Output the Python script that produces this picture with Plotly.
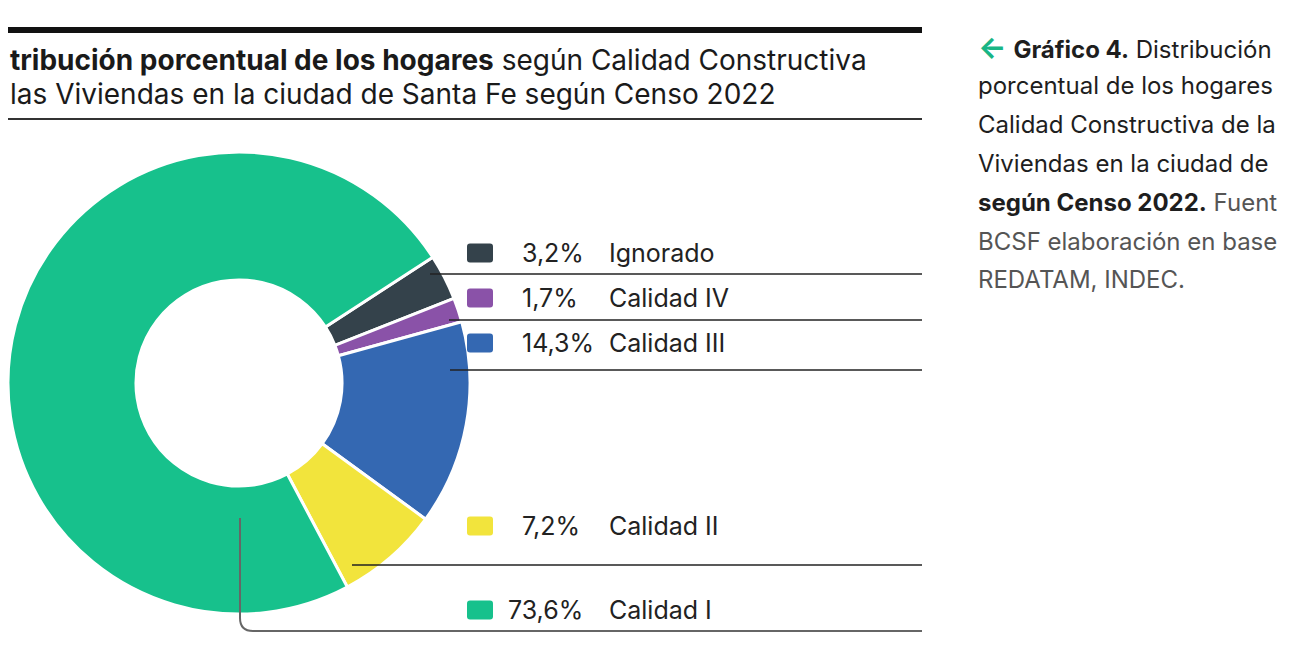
import plotly.graph_objects as go

# Hogares por calidad constructiva de la vivienda, Santa Fe, Censo 2022
labels = ["Ignorado", "Calidad IV", "Calidad III", "Calidad II", "Calidad I"]
values = [3.2, 1.7, 14.3, 7.2, 73.6]
pct_text = ["3,2%", "1,7%", "14,3%", "7,2%", "73,6%"]
colors = ["#34424b", "#8a52a8", "#3468b2", "#f2e43c", "#17c18c"]

title_1 = "<b>tribución porcentual de los hogares</b> según Calidad Constructiva"
title_2 = "las Viviendas en la ciudad de Santa Fe según Censo 2022"

caption = [
    "<span style='color:#19b585;font-size:30px'><b>←</b></span> <b>Gráfico 4.</b> Distribución",
    "porcentual de los hogares",
    "Calidad Constructiva de la",
    "Viviendas en la ciudad de",
    "<b>según Censo 2022.</b> <span style='color:#555'>Fuent</span>",
    "<span style='color:#555'>BCSF elaboración en base</span>",
    "<span style='color:#555'>REDATAM, INDEC.</span>",
]

# the page body adds an 8px margin, so the figure is a bit smaller and
# positions below are given in page pixels
OFF = 8
W, H = 1300 - OFF, 655 - OFF


def px(x):
    return (x - OFF) / W


def py(y):
    return 1 - (y - OFF) / H


# donut geometry (page pixels)
cx, cy, R = 239, 383, 231

fig = go.Figure()
fig.add_trace(go.Pie(
    labels=labels,
    values=values,
    sort=False,
    direction="clockwise",
    rotation=57,
    hole=0.446,
    marker=dict(colors=colors, line=dict(color="white", width=3)),
    textinfo="none",
    hoverinfo="label+percent",
    showlegend=False,
    domain=dict(x=[px(cx - R), px(cx + R)], y=[py(cy + R), py(cy - R)]),
))

shapes = []
annotations = []

# header rules
shapes.append(dict(type="line", xref="paper", yref="paper",
                   x0=px(0), x1=px(922), y0=py(30), y1=py(30),
                   line=dict(color="#111", width=6)))
shapes.append(dict(type="line", xref="paper", yref="paper",
                   x0=px(0), x1=px(922), y0=py(119), y1=py(119),
                   line=dict(color="#333", width=2)))

for txt, y in [(title_1, 60), (title_2, 94)]:
    annotations.append(dict(text=txt, x=px(OFF), y=py(y), xref="paper", yref="paper",
                            xanchor="left", yanchor="middle", showarrow=False,
                            font=dict(family="Inter", size=28, color="#1a1a1a")))

# legend rows and leader lines
row_y = [253, 298, 343, 526, 610]
line_y = [274, 320, 370, 565]
line_x0 = [cx + 191, cx + 210, cx + 211, cx + 113]
pct_x = [520, 520, 520, 520, 506]

for i, lab in enumerate(labels):
    yc = row_y[i]
    x0, x1, y0, y1, r = 467, 493, yc - 9.5, yc + 9.5, 3
    path = (f"M {px(x0 + r)} {py(y0)} L {px(x1 - r)} {py(y0)} "
            f"Q {px(x1)} {py(y0)} {px(x1)} {py(y0 + r)} L {px(x1)} {py(y1 - r)} "
            f"Q {px(x1)} {py(y1)} {px(x1 - r)} {py(y1)} L {px(x0 + r)} {py(y1)} "
            f"Q {px(x0)} {py(y1)} {px(x0)} {py(y1 - r)} L {px(x0)} {py(y0 + r)} "
            f"Q {px(x0)} {py(y0)} {px(x0 + r)} {py(y0)} Z")
    shapes.append(dict(type="path", xref="paper", yref="paper", path=path,
                       fillcolor=colors[i], line=dict(width=0)))
    annotations.append(dict(text=pct_text[i], x=px(pct_x[i]), y=py(yc), xref="paper", yref="paper",
                            xanchor="left", yanchor="middle", showarrow=False,
                            font=dict(family="Inter", size=25, color="#222")))
    annotations.append(dict(text=lab, x=px(607), y=py(yc), xref="paper", yref="paper",
                            xanchor="left", yanchor="middle", showarrow=False,
                            font=dict(family="Inter", size=25, color="#222")))

for x0, y in zip(line_x0, line_y):
    shapes.append(dict(type="line", xref="paper", yref="paper",
                       x0=px(x0), x1=px(922), y0=py(y), y1=py(y),
                       line=dict(color="#222", width=1.5)))

# Calidad I leader: down from the slice then along the bottom
lx, ly0, ly1 = cx + 1, 518, 631
shapes.append(dict(type="path", xref="paper", yref="paper",
                   path=(f"M {px(lx)} {py(ly0)} L {px(lx)} {py(ly1 - 13)} "
                         f"Q {px(lx)} {py(ly1)} {px(lx + 13)} {py(ly1)} L {px(922)} {py(ly1)}"),
                   line=dict(color="#666", width=2)))

# side caption
for i, txt in enumerate(caption):
    annotations.append(dict(text=txt, x=px(976), y=py(47 + i * 38.8), xref="paper", yref="paper",
                            xanchor="left", yanchor="middle", showarrow=False,
                            font=dict(family="Inter", size=24, color="#1e1e1e")))

fig.update_layout(
    width=W, height=H,
    margin=dict(l=0, r=0, t=0, b=0),
    paper_bgcolor="white",
    plot_bgcolor="white",
    shapes=shapes,
    annotations=annotations,
)

fig.write_html("out.html")
